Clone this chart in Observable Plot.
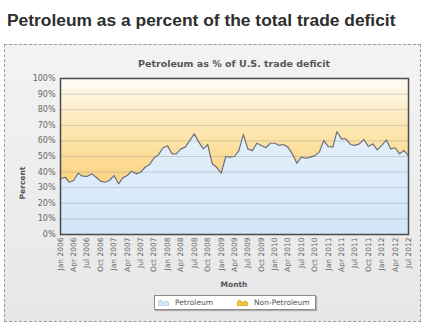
<!DOCTYPE html>
<html>
<head>
<meta charset="utf-8">
<script src="https://cdn.jsdelivr.net/npm/d3@7"></script>
<script src="https://cdn.jsdelivr.net/npm/@observablehq/plot@0.6"></script>
<style>
  body { margin: 0; background: #ffffff; }
  #wrap { position: relative; width: 431px; height: 329px; overflow: hidden; font-family: "DejaVu Sans", sans-serif; }
  #title { position: absolute; left: 7px; top: 12px; font: bold 17.4px/17px "Liberation Sans", Arial, sans-serif; color: #2e2e2e; white-space: nowrap; }
  #box { position: absolute; left: 4px; top: 44px; width: 415px; height: 276px; border: 1px dashed #9c9c9c; background: linear-gradient(#f3f3f3, #e7e7e7); }
  #chart { position: absolute; left: 0; top: 0; }
  #ctitle { position: absolute; left: 60px; width: 348px; top: 59px; text-align: center; font: bold 9.5px/9px "DejaVu Sans", sans-serif; color: #555; white-space: nowrap; }
  #ylab { position: absolute; left: 23px; top: 183px; transform: translate(-50%, -50%) rotate(-90deg); font: bold 7.5px/8px "DejaVu Sans", sans-serif; color: #555; white-space: nowrap; }
  #xlab { position: absolute; left: 60px; width: 348px; top: 281px; text-align: center; font: bold 7.5px/8px "DejaVu Sans", sans-serif; color: #555; }
  #legend { position: absolute; left: 154px; top: 295px; width: 160px; height: 13px; background: #fff; border: 1px solid #8c8c8c; box-shadow: 1px 1px 1px rgba(0,0,0,0.25); font: 7.5px/13px "DejaVu Sans", sans-serif; color: #555; }
  .li { position: absolute; top: 0; white-space: nowrap; }
  .li svg { position: absolute; top: 3px; left: -17px; }
</style>
</head>
<body>
<div id="wrap">
  <div id="box"></div>
  <div id="title">Petroleum as a percent of the total trade deficit</div>
  <div id="chart"></div>
  <div id="ctitle">Petroleum as % of U.S. trade deficit</div>
  <div id="ylab">Percent</div>
  <div id="xlab">Month</div>
  <div id="legend"></div>
</div>
<script>
// ---- data ----
const startYear = 2006;
const startMonthIndex = 0; // January
const petroleum = [
  35.7, 36.7, 33.5, 34.6, 39.3, 37.4, 37.2, 38.9, 36.7, 34.2, 33.5, 34.6,
  37.8, 32.5, 36.3, 37.8, 40.6, 38.9, 39.9, 43.1, 44.9, 49.1, 51.2, 55.6,
  56.8, 51.7, 51.7, 54.9, 56.0, 60.3, 64.5, 59.2, 54.9, 57.7, 45.3, 43.1,
  39.3, 50.0, 49.6, 50.0, 53.8, 64.2, 54.9, 53.8, 58.5, 57.1, 55.6, 58.5,
  58.5, 57.1, 57.7, 56.0, 51.7, 45.7, 49.6, 48.9, 49.6, 50.6, 52.8, 60.3,
  56.4, 56.0, 66.0, 61.3, 61.3, 57.7, 57.1, 58.1, 60.9, 56.4, 58.1, 54.3,
  57.1, 60.7, 54.9, 55.6, 51.7, 53.8, 50.6
];
const seriesNames = ["Petroleum", "Non-Petroleum"];
const yTicks = [0, 10, 20, 30, 40, 50, 60, 70, 80, 90, 100];
const xTickEveryMonths = 3;

// ---- build table ----
const start = new Date(Date.UTC(startYear, startMonthIndex, 1));
const rows = petroleum.map((v, i) => ({ date: d3.utcMonth.offset(start, i), pet: v, total: 100 }));
const xDomain = [rows[0].date, rows[rows.length - 1].date];

const defs = () => {
  const d = d3.create("svg:defs");
  const gp = d.append("linearGradient").attr("id", "gPet").attr("x1", 0).attr("y1", 0).attr("x2", 0).attr("y2", 1);
  gp.append("stop").attr("offset", 0).attr("stop-color", "#e4f0fb");
  gp.append("stop").attr("offset", 1).attr("stop-color", "#d2e6f8");
  const gn = d.append("linearGradient").attr("id", "gNon").attr("x1", 0).attr("y1", 0).attr("x2", 0).attr("y2", 1);
  gn.append("stop").attr("offset", 0).attr("stop-color", "#fefcf7");
  gn.append("stop").attr("offset", 0.45).attr("stop-color", "#fde8b4");
  gn.append("stop").attr("offset", 1).attr("stop-color", "#fbd381");
  return d.node();
};

const chart = Plot.plot({
  width: 431,
  height: 329,
  marginTop: 78,
  marginRight: 23,
  marginBottom: 95,
  marginLeft: 60,
  style: { background: "transparent", color: "#666", fontFamily: "DejaVu Sans, sans-serif", fontSize: "8px" },
  x: { type: "utc", domain: xDomain },
  y: { domain: [0, 100] },
  marks: [
    defs,
    Plot.areaY(rows, { x: "date", y1: "pet", y2: "total", fill: "url(#gNon)" }),
    Plot.areaY(rows, { x: "date", y1: 0, y2: "pet", fill: "url(#gPet)" }),
    Plot.gridY(yTicks.slice(1, -1), { stroke: "#7f7f7f", strokeOpacity: 0.3 }),
    Plot.lineY(rows, { x: "date", y: "pet", stroke: "#6f6f6f", strokeWidth: 1.2 }),
    Plot.frame({ stroke: "#4a4a4a", strokeWidth: 1.5 }),
    Plot.axisY(yTicks, { tickSize: 0, tickPadding: 5, tickFormat: d => d + "%", label: null, fontSize: 8 }),
    Plot.axisX({
      ticks: d3.utcMonth.every(xTickEveryMonths),
      tickFormat: d3.utcFormat("%b %Y"),
      tickRotate: -90, tickSize: 0, tickPadding: 3, label: null, fontSize: 7.5
    })
  ]
});
document.getElementById("chart").appendChild(chart);

// ---- legend ----
const legendColors = [["#dbe9f6", "#9fbedb"], ["#f2c744", "#c99a12"]];
const legendLeft = [20, 99];
const legend = document.getElementById("legend");
seriesNames.forEach((name, i) => {
  const item = document.createElement("div");
  item.className = "li";
  item.style.left = legendLeft[i] + "px";
  item.innerHTML = `<svg width="11" height="7" viewBox="0 0 11 7"><path d="M0,7 L0,3 L3,1 L5,4 L8,2 L11,4 L11,7 Z" fill="${legendColors[i][0]}" stroke="${legendColors[i][1]}" stroke-width="0.8"/></svg>${name}`;
  legend.appendChild(item);
});
</script>
</body>
</html>
